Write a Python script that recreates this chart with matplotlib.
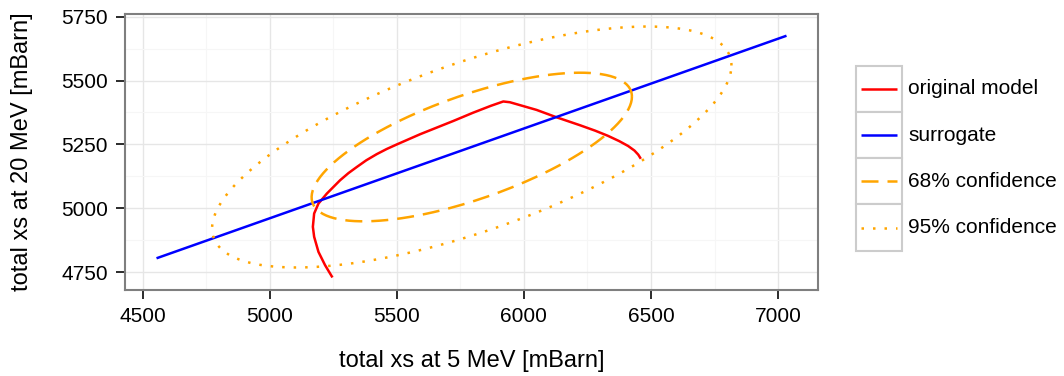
import numpy as np
import matplotlib.pyplot as plt
from matplotlib.patches import Rectangle

plt.rcParams['font.family'] = ['Liberation Sans', 'DejaVu Sans']

# Original model: total cross section at 5 MeV vs 20 MeV along the parameter path
model_xs5 = [5247, 5218, 5192, 5175, 5170, 5175, 5192, 5225, 5277, 5310, 5343,
             5380, 5421, 5460, 5500, 5592, 5723, 5800, 5870, 5919, 5945, 6050,
             6129, 6221, 6280, 6330, 6375, 6410, 6435, 6450, 6460]
model_xs20 = [4730, 4778, 4830, 4889, 4928, 4980, 5019, 5058, 5110, 5138, 5162,
              5188, 5212, 5232, 5250, 5290, 5342, 5374, 5401, 5418, 5415, 5385,
              5356, 5325, 5304, 5284, 5263, 5244, 5226, 5210, 5194]

# Linear surrogate (end points)
surrogate_xs5 = [4555, 7033]
surrogate_xs20 = [4805, 5675]

# Gaussian approximation of the surrogate prediction
mean = np.array([5795.0, 5240.0])
cov = np.array([[174155.0, 54330.0],
                [54330.0, 37029.0]])
levels = [0.68, 0.95]


def confidence_ellipse(mean, cov, level, n=240):
    # radius from the chi-square quantile with 2 degrees of freedom
    r = np.sqrt(-2.0 * np.log(1.0 - level))
    t = np.linspace(0, 2 * np.pi, n)
    L = np.linalg.cholesky(cov)
    pts = mean[:, None] + r * L @ np.vstack([np.cos(t), np.sin(t)])
    return pts[0], pts[1]


lw = 1.8
series = [
    ('original model', 'red', '-'),
    ('surrogate', 'blue', '-'),
    ('68% confidence', 'orange', (0, (6.8, 3.6))),
    ('95% confidence', 'orange', (0, (1, 3.6))),
]

fig = plt.figure(figsize=(10.64, 3.76), dpi=100)
fig.subplots_adjust(left=0.1175, right=0.7688, bottom=0.2287, top=0.9628)
ax = fig.add_subplot(111)

ax.plot(model_xs5, model_xs20, color='red', lw=lw, solid_capstyle='butt')
ax.plot(surrogate_xs5, surrogate_xs20, color='blue', lw=lw, solid_capstyle='butt')
for level, (_, color, ls) in zip(levels, series[2:]):
    ex, ey = confidence_ellipse(mean, cov, level)
    ax.plot(ex, ey, color=color, lw=lw, linestyle=ls)

ax.margins(0.05)

# theme_bw look
ax.set_xticks([4500, 5000, 5500, 6000, 6500, 7000])
ax.set_yticks([4750, 5000, 5250, 5500, 5750])
ax.set_xticks([4750, 5250, 5750, 6250, 6750], minor=True)
ax.set_yticks([4875, 5125, 5375, 5625], minor=True)
ax.grid(True, which='major', color='#e6e6e6', lw=1.0)
ax.grid(True, which='minor', color='#f6f6f6', lw=0.8)
ax.set_axisbelow(True)
for s in ax.spines.values():
    s.set_color('#7f7f7f')
    s.set_linewidth(1.5)
ax.tick_params(which='major', length=6.5, width=1.3, color='#1a1a1a',
               labelsize=15, pad=6)
ax.tick_params(which='minor', length=0)

ax.set_xlabel('total xs at 5 MeV [mBarn]', fontsize=17, labelpad=17)
ax.set_ylabel('total xs at 20 MeV [mBarn]', fontsize=17, labelpad=20)

# legend with boxed keys
lax = fig.add_axes([855.7 / 1064, (376 - 250.7) / 376, 46.6 / 1064, 185 / 376])
lax.set_xlim(0, 1)
lax.set_ylim(0, len(series))
lax.axis('off')
for i, (label, color, ls) in enumerate(series):
    y0 = len(series) - 1 - i
    lax.add_patch(Rectangle((0, y0), 1, 1, facecolor='white', edgecolor='#cccccc',
                            lw=1.5, clip_on=False))
    lax.plot([0.107, 0.893], [y0 + 0.5, y0 + 0.5], color=color, lw=lw,
             linestyle=ls, solid_capstyle='butt')
    lax.text(1.13, y0 + 0.5, label, fontsize=15, va='center', ha='left')

fig.savefig('out.png', dpi=100)
